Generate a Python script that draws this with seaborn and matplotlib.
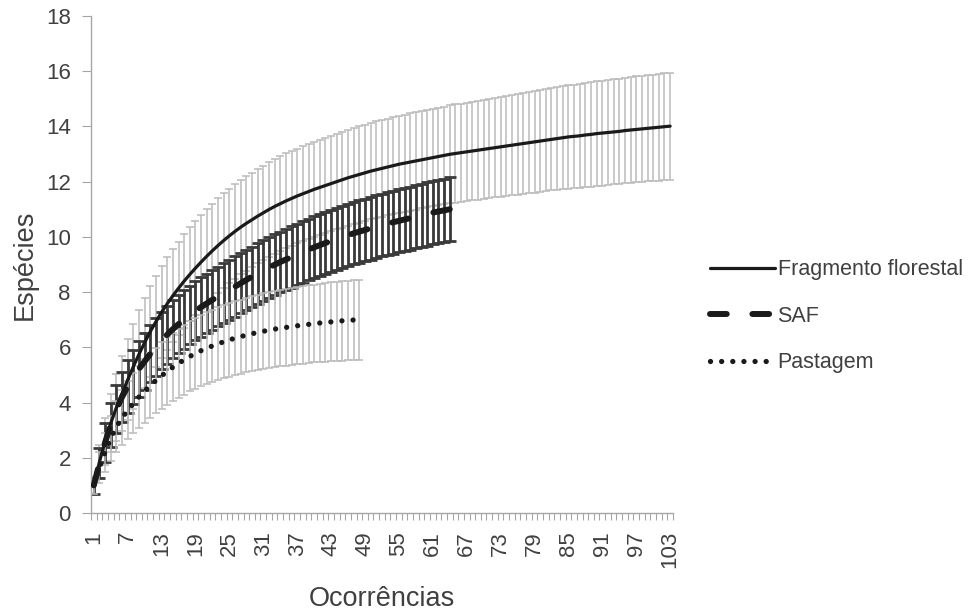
import matplotlib
matplotlib.use("Agg")
import matplotlib.pyplot as plt
import seaborn as sns
import numpy as np
from matplotlib.ticker import FixedLocator

# curvas de rarefação
fragmento = [1.00, 1.85, 2.60, 3.25, 3.82, 4.33, 4.82, 5.30, 5.75, 6.17,
             6.57, 6.93, 7.27, 7.58, 7.87, 8.14, 8.40, 8.64, 8.87, 9.09,
             9.30, 9.50, 9.69, 9.87, 10.04, 10.20, 10.35, 10.49, 10.62, 10.75,
             10.87, 10.99, 11.10, 11.20, 11.30, 11.39, 11.48, 11.56, 11.64, 11.72,
             11.79, 11.86, 11.93, 12.00, 12.07, 12.14, 12.20, 12.26, 12.32, 12.38,
             12.43, 12.48, 12.53, 12.58, 12.63, 12.67, 12.71, 12.75, 12.79, 12.83,
             12.87, 12.91, 12.95, 12.99, 13.02, 13.05, 13.08, 13.11, 13.14, 13.17,
             13.20, 13.23, 13.26, 13.29, 13.32, 13.35, 13.38, 13.41, 13.44, 13.47,
             13.50, 13.53, 13.56, 13.59, 13.62, 13.64, 13.66, 13.69, 13.71, 13.74,
             13.76, 13.78, 13.80, 13.82, 13.85, 13.87, 13.89, 13.91, 13.93, 13.95,
             13.97, 13.99, 14.01]
fragmento_dp = [0.30, 0.60, 0.85, 1.05, 1.22, 1.36, 1.47, 1.55, 1.60, 1.63,
                1.65, 1.66, 1.67, 1.68, 1.68, 1.69, 1.69, 1.70, 1.70, 1.70,
                1.70, 1.70, 1.71, 1.71, 1.71, 1.71, 1.71, 1.71, 1.71, 1.71,
                1.71, 1.71, 1.72, 1.72, 1.72, 1.72, 1.72, 1.72, 1.73, 1.73,
                1.73, 1.73, 1.73, 1.73, 1.74, 1.74, 1.74, 1.74, 1.74, 1.74,
                1.75, 1.75, 1.75, 1.75, 1.75, 1.76, 1.76, 1.76, 1.76, 1.76,
                1.77, 1.77, 1.77, 1.77, 1.78, 1.78, 1.78, 1.79, 1.79, 1.79,
                1.80, 1.80, 1.81, 1.81, 1.82, 1.82, 1.83, 1.83, 1.84, 1.84,
                1.85, 1.85, 1.86, 1.86, 1.87, 1.87, 1.88, 1.88, 1.89, 1.89,
                1.90, 1.90, 1.90, 1.91, 1.91, 1.91, 1.92, 1.92, 1.92, 1.93,
                1.93, 1.93, 1.94]

saf = [1.00, 1.80, 2.55, 3.20, 3.75, 4.20, 4.58, 4.92, 5.22, 5.49,
       5.76, 6.01, 6.25, 6.46, 6.66, 6.84, 7.01, 7.17, 7.32, 7.46,
       7.59, 7.72, 7.84, 7.96, 8.08, 8.20, 8.32, 8.44, 8.56, 8.67,
       8.78, 8.89, 8.99, 9.09, 9.18, 9.27, 9.36, 9.45, 9.54, 9.62,
       9.70, 9.78, 9.85, 9.92, 9.99, 10.06, 10.13, 10.19, 10.25, 10.31,
       10.37, 10.43, 10.48, 10.53, 10.58, 10.63, 10.68, 10.73, 10.78, 10.83,
       10.88, 10.92, 10.96, 11.00]
saf_dp = [0.30, 0.55, 0.70, 0.80, 0.87, 0.92, 0.96, 0.99, 1.01, 1.02,
          1.03, 1.04, 1.04, 1.05, 1.05, 1.06, 1.06, 1.06, 1.07, 1.07,
          1.07, 1.08, 1.08, 1.08, 1.08, 1.09, 1.09, 1.09, 1.09, 1.10,
          1.10, 1.10, 1.10, 1.10, 1.11, 1.11, 1.11, 1.11, 1.11, 1.12,
          1.12, 1.12, 1.12, 1.12, 1.12, 1.13, 1.13, 1.13, 1.13, 1.13,
          1.13, 1.14, 1.14, 1.14, 1.14, 1.14, 1.14, 1.15, 1.15, 1.15,
          1.15, 1.15, 1.15, 1.15]

pastagem = [1.00, 1.65, 2.20, 2.70, 3.12, 3.45, 3.72, 3.97, 4.20, 4.42,
            4.62, 4.80, 4.97, 5.13, 5.28, 5.42, 5.55, 5.67, 5.78, 5.88,
            5.97, 6.05, 6.13, 6.20, 6.27, 6.33, 6.39, 6.44, 6.49, 6.54,
            6.58, 6.62, 6.66, 6.69, 6.72, 6.75, 6.78, 6.81, 6.83, 6.86,
            6.88, 6.90, 6.92, 6.94, 6.96, 6.97, 6.99, 7.00]
pastagem_dp = [0.30, 0.55, 0.70, 0.82, 0.92, 0.99, 1.05, 1.09, 1.12, 1.15,
               1.17, 1.19, 1.21, 1.23, 1.24, 1.25, 1.26, 1.27, 1.28, 1.29,
               1.30, 1.31, 1.32, 1.32, 1.33, 1.34, 1.34, 1.35, 1.36, 1.36,
               1.37, 1.37, 1.38, 1.38, 1.39, 1.39, 1.40, 1.40, 1.41, 1.41,
               1.42, 1.42, 1.43, 1.43, 1.44, 1.44, 1.45, 1.45]

rotulos_x = list(range(1, 104, 6))

sns.set_theme(style="white")
plt.rcParams['font.family'] = ['Liberation Sans', 'DejaVu Sans']
texto = '#404040'
eixo = '#a6a6a6'

fig = plt.figure(figsize=(9.76, 6.12), dpi=100)
ax = fig.add_axes([0.0932, 0.1618, 0.5963, 0.8121])

# posições categóricas (0..n-1), como no Excel
xf = np.arange(len(fragmento))
xs = np.arange(len(saf))
xp = np.arange(len(pastagem))

ax.errorbar(xf, fragmento, yerr=fragmento_dp, fmt='none', ecolor='#bababa',
            elinewidth=1.1, capsize=3, capthick=1.1, zorder=1)
ax.errorbar(xs, saf, yerr=saf_dp, fmt='none', ecolor='#3a3a3a',
            elinewidth=2, capsize=4, capthick=2, zorder=2)
ax.errorbar(xp, pastagem, yerr=pastagem_dp, fmt='none', ecolor='#bababa',
            elinewidth=1.1, capsize=3, capthick=1.1, zorder=3)

sns.lineplot(x=xf, y=fragmento, ax=ax, color='#1a1a1a', lw=2.3,
             label='Fragmento florestal', zorder=5)
sns.lineplot(x=xs, y=saf, ax=ax, color='#1a1a1a', lw=4.3,
             linestyle=(0, (2.8, 4.3)), dash_capstyle='round',
             label='SAF', zorder=5)
sns.lineplot(x=xp, y=pastagem, ax=ax, color='#1a1a1a', lw=3.8,
             linestyle=(0, (0.01, 2.1)), dash_capstyle='round',
             label='Pastagem', zorder=5)

ax.set_xlim(-0.5, len(fragmento) - 0.5)
ax.set_ylim(0, 18)
ax.set_yticks(range(0, 19, 2))
ax.set_xticks([o - 1 for o in rotulos_x])
ax.set_xticklabels([str(o) for o in rotulos_x], rotation=90)
ax.xaxis.set_minor_locator(FixedLocator(np.arange(-0.5, len(fragmento), 1.0)))
ax.tick_params(axis='x', which='major', length=0, pad=13, labelsize=16,
               labelcolor=texto)
ax.tick_params(axis='x', which='minor', length=5, width=0.8, color=eixo,
               direction='out')
ax.tick_params(axis='y', length=6.5, width=0.8, color=eixo, direction='out',
               labelsize=16, labelcolor=texto, pad=8)
ax.tick_params(bottom=True, left=True, which='both')

for lado in ['top', 'right']:
    ax.spines[lado].set_visible(False)
for lado in ['left', 'bottom']:
    ax.spines[lado].set_color(eixo)
    ax.spines[lado].set_linewidth(1)

ax.set_xlabel('Ocorrências', fontsize=19.5, color=texto, labelpad=13)
ax.set_ylabel('Espécies', fontsize=19.5, color=texto, labelpad=6)
ax.grid(False)

leg = ax.legend(loc='center left', bbox_to_anchor=(1.031, 0.396), frameon=False,
                fontsize=15.5, handlelength=3.0, handletextpad=0.12,
                labelspacing=1.18)
for t in leg.get_texts():
    t.set_color(texto)

plt.savefig('out.png', dpi=100)
